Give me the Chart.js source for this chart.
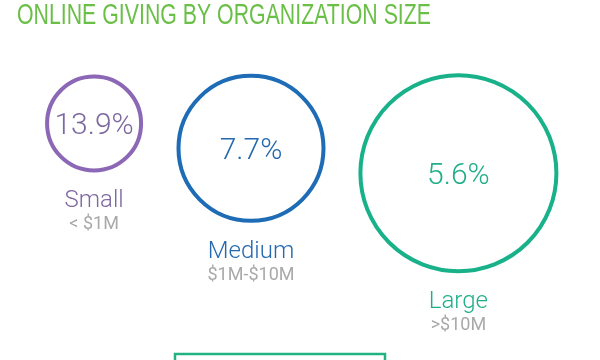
<!DOCTYPE html>
<html>
<head>
<meta charset="utf-8">
<script src="https://cdn.jsdelivr.net/npm/chart.js@4"></script>
<style>
  body { margin: 0; background: #fff; }
</style>
</head>
<body>
<canvas id="givingChart" width="600" height="360"></canvas>
<script>
// data
const title = 'ONLINE GIVING BY ORGANIZATION SIZE';
const categories = ['Small', 'Medium', 'Large'];
const sizeRanges = ['< $1M', '$1M-$10M', '>$10M'];
const onlineGiving = [13.9, 7.7, 5.6]; // % of total fundraising

// look
const colors = ['#8b67b5', '#1d6cb5', '#18b189'];
const textColors = ['#7d68a0', '#2468ae', '#1fae88'];
const radii = [47, 72.5, 98];   // circle grows with org size
const ringWidth = 4;
const gap = 35;
const firstLeft = 43;
const circlesTop = 73;

// lay the circles out side by side, top aligned
let left = firstLeft;
const points = radii.map((r, i) => {
    const outer = r + ringWidth / 2;
    const p = { x: left + outer, y: circlesTop + outer, r: r, v: onlineGiving[i] };
    left += outer * 2 + gap;
    return p;
});

// bubble charts pad the chart area by the biggest bubble, so shift the scales by that much
const overflow = Math.max(...radii) + ringWidth / 2;

const textPlugin = {
    id: 'circleText',
    afterDatasetsDraw(chart) {
        const c = chart.ctx;
        const meta = chart.getDatasetMeta(0);
        c.save();

        // title, condensed to the width of the original
        c.font = '30px "Liberation Sans Narrow", "Liberation Sans", sans-serif';
        c.fillStyle = '#6abf47';
        c.textBaseline = 'alphabetic';
        c.textAlign = 'left';
        const w = c.measureText(title).width;
        c.save();
        c.translate(17, 24);
        c.scale(414 / w, 1);
        c.fillText(title, 0, 0);
        c.restore();

        c.textAlign = 'center';
        meta.data.forEach((el, i) => {
            const bottom = el.y + radii[i] + ringWidth / 2;
            c.fillStyle = textColors[i];
            c.textBaseline = 'middle';
            c.font = '300 30px Roboto, sans-serif';
            c.fillText(onlineGiving[i].toFixed(1) + '%', el.x, el.y + 3);

            c.textBaseline = 'alphabetic';
            c.font = '300 24px Roboto, sans-serif';
            c.fillText(categories[i], el.x, bottom + 35);

            c.fillStyle = '#a9a9a9';
            c.font = '18px Roboto, sans-serif';
            c.fillText(sizeRanges[i], el.x, bottom + 57);
        });

        // button outline cut off at the bottom
        c.strokeStyle = '#22b283';
        c.lineWidth = 2.5;
        c.strokeRect(175, 354, 210, 40);
        c.restore();
    }
};

const ctx = document.getElementById('givingChart').getContext('2d');
const givingChart = new Chart(ctx, {
    type: 'bubble',
    data: {
        labels: categories,
        datasets: [{
            data: points,
            backgroundColor: 'rgba(0,0,0,0)',
            borderColor: colors,
            borderWidth: ringWidth,
            hoverBorderWidth: ringWidth,
            clip: false
        }]
    },
    options: {
        responsive: false,
        animation: false,
        events: [],
        layout: { padding: 0 },
        scales: {
            x: { type: 'linear', display: false, min: overflow, max: 600 - overflow },
            y: { type: 'linear', display: false, min: overflow, max: 360 - overflow, reverse: true }
        },
        plugins: {
            legend: { display: false },
            tooltip: { enabled: false }
        }
    },
    plugins: [textPlugin]
});
</script>
</body>
</html>
